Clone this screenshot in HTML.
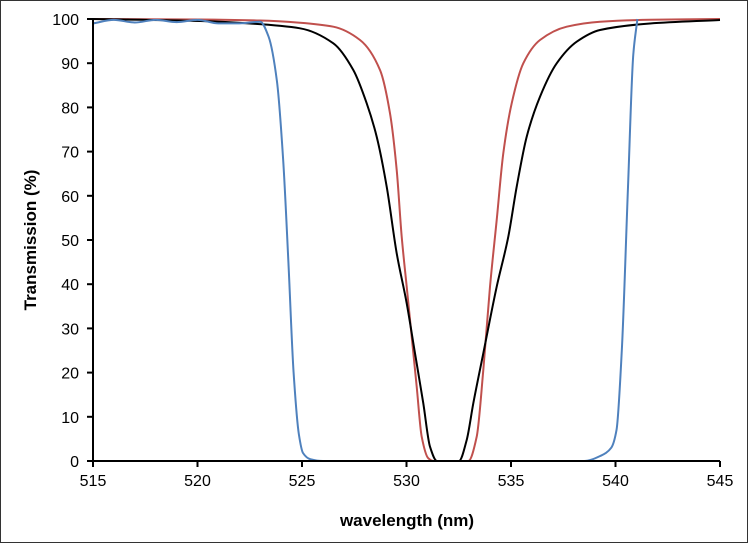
<!DOCTYPE html>
<html><head><style>
body{margin:0;background:#fff}
svg{display:block;font-family:"Liberation Sans",sans-serif}
</style></head><body>
<svg id="s" width="748" height="543" viewBox="0 0 748 543">
<rect x="0.5" y="0.5" width="747" height="542" fill="#fff" stroke="#333" stroke-width="1"/>
<g id="g"></g>
<text x="407" y="526" font-size="17" font-weight="bold" text-anchor="middle">wavelength (nm)</text>
<text transform="translate(36,240) rotate(-90)" font-size="17" font-weight="bold" text-anchor="middle">Transmission (%)</text>
</svg>
<script>
const ns="http://www.w3.org/2000/svg",g=document.getElementById('g');
const X=w=>93+(w-515)*20.9, Y=t=>461-t*4.42;
function el(n,a,txt){const e=document.createElementNS(ns,n);for(const k in a)e.setAttribute(k,a[k]);if(txt!==undefined)e.textContent=txt;g.appendChild(e);return e;}
for(let t=0;t<=100;t+=10){el('line',{x1:87,x2:93,y1:Y(t),y2:Y(t),stroke:'#000','stroke-width':2});el('text',{x:79,y:Y(t)+6,'font-size':16,'text-anchor':'end'},t);}
for(let w=515;w<=545;w+=5){el('line',{x1:X(w),x2:X(w),y1:461,y2:467,stroke:'#000','stroke-width':2});el('text',{x:X(w),y:486,'font-size':16,'text-anchor':'middle'},w);}
function mono(p){const n=p.length,xs=p.map(q=>q[0]),ys=p.map(q=>q[1]);const d=[],m=[];
for(let i=0;i<n-1;i++)d.push((ys[i+1]-ys[i])/(xs[i+1]-xs[i]));
m[0]=d[0];m[n-1]=d[n-2];
for(let i=1;i<n-1;i++){if(d[i-1]*d[i]<=0)m[i]=0;else{const w1=2*(xs[i+1]-xs[i])+(xs[i]-xs[i-1]),w2=(xs[i+1]-xs[i])+2*(xs[i]-xs[i-1]);m[i]=(w1+w2)/(w1/d[i-1]+w2/d[i]);}}
let s='M'+xs[0]+','+ys[0];
for(let i=0;i<n-1;i++){const h=xs[i+1]-xs[i];s+='C'+(xs[i]+h/3).toFixed(2)+','+(ys[i]+m[i]*h/3).toFixed(2)+' '+(xs[i+1]-h/3).toFixed(2)+','+(ys[i+1]-m[i+1]*h/3).toFixed(2)+' '+xs[i+1]+','+ys[i+1];}
return s;}
const red=[[93,19],[200,19.5],[260,20.5],[300,22.7],[333.3,26.7],[360,40],[380,70],[390,113.3],[396.7,170],[401.7,236.7],[406.7,286.7],[411.7,336.7],[416.7,386.7],[421.7,436.7],[428.3,458.3],[433.3,461],[468.3,461],[476.7,436.7],[483.3,370],[490,286.7],[496.7,220],[503.3,153.3],[511.7,103.3],[523.3,63.3],[540,40],[566.7,26.7],[600,21.7],[650,19.8],[720,19]];
const blk=[[93,19],[200,21],[250,23.5],[300,28.3],[333.3,43.3],[353.3,70],[366.7,103.3],[376.7,136.7],[386.7,186.7],[396.7,253.3],[406.7,303.3],[415,353.3],[423.3,403.3],[430,446.7],[437,461],[459,461],[466.7,440],[473.3,403.3],[483.3,353.3],[496.7,286.7],[508.3,236.7],[516.7,186.7],[526.7,136.7],[540,96.7],[556.7,63.3],[576.7,41.7],[600,30],[650,23.5],[720,20]];
el('path',{d:mono(red),fill:'none',stroke:'#c0504d','stroke-width':2});
el('path',{d:mono(blk),fill:'none',stroke:'#000','stroke-width':2});
const b=[[515,99],[516,99.8],[517,99.2],[518,99.8],[519,99.3],[520,99.8],[521,99],[522,99],[523,99.4],[523.4,96],[523.8,86],[524.1,68],[524.35,45],[524.6,20],[524.85,6],[525.05,1.8],[525.4,0.4],[526,0],[538.5,0],[539.3,1.2],[539.8,3],[540.05,7],[540.3,25],[540.6,62],[540.85,92],[541.05,100]];
el('path',{d:mono(b.map(p=>[+X(p[0]).toFixed(1),+Y(p[1]).toFixed(1)])),fill:'none',stroke:'#4f81bd','stroke-width':2,'stroke-linejoin':'round'});
el('line',{x1:93,x2:93,y1:Y(100),y2:462,stroke:'#000','stroke-width':2});
el('line',{x1:92,x2:X(545),y1:461,y2:461,stroke:'#000','stroke-width':2});
</script>
</body></html>
